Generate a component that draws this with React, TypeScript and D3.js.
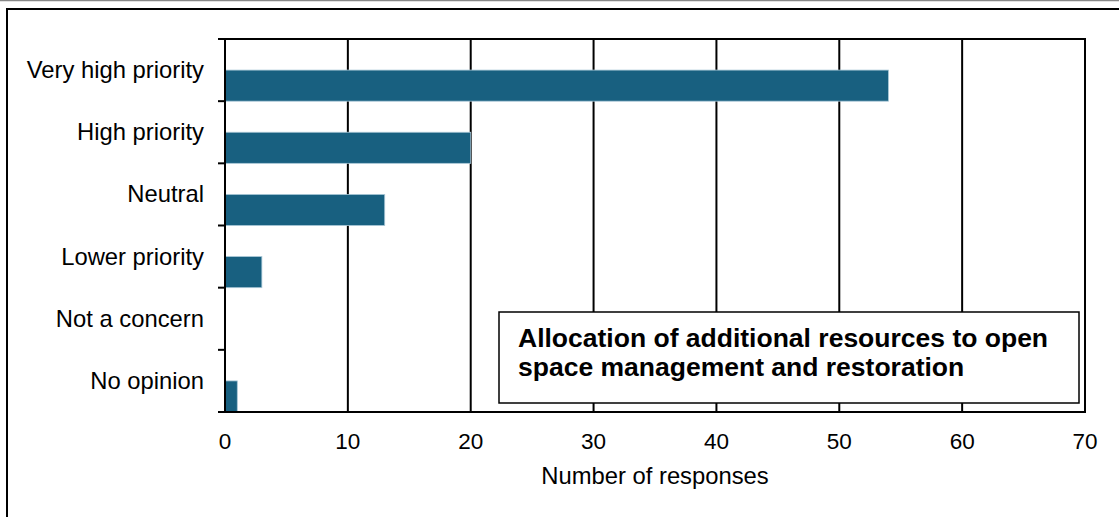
import React from "react";
import * as d3 from "d3";

const categories = ["Very high priority", "High priority", "Neutral", "Lower priority", "Not a concern", "No opinion"];
const values = [54, 20, 13, 3, 0, 1];
const xTicks = [0, 10, 20, 30, 40, 50, 60, 70];
const xLabel = "Number of responses";
const titleLines = ["Allocation of additional resources to open", "space management and restoration"];

const W = 1119;
const H = 517;
const plot = { left: 225, right: 1085, top: 39, bottom: 412 };
const FONT = "Arial, 'Liberation Sans', sans-serif";

export default function App() {
  const x = d3.scaleLinear().domain([0, 70]).range([plot.left, plot.right]);
  const y = d3.scaleBand().domain(categories).range([plot.top, plot.bottom]).padding(0);
  const bw = y.bandwidth();

  return (
    <svg width={W} height={H} style={{ position: "absolute", left: 0, top: 0, background: "#fff" }}>
      <line x1={0} x2={W} y1={0.5} y2={0.5} stroke="#888" strokeWidth={1.5} />
      <path d={`M7,${H} L7,9 L${W},9`} fill="none" stroke="#000" strokeWidth={2} />
      {/* gridlines */}
      {xTicks.slice(1, -1).map((t) => (
        <line key={t} x1={x(t)} x2={x(t)} y1={plot.top} y2={plot.bottom} stroke="#000" strokeWidth={2} />
      ))}
      {/* bars */}
      {categories.map((c, i) => (
        <rect
          key={c}
          x={x(0)}
          y={(y(c) as number) + bw / 2}
          width={x(values[i]) - x(0)}
          height={bw / 2}
          fill="#186080"
          stroke="#a9c7d6"
          strokeWidth={values[i] > 0 ? 0.8 : 0}
        />
      ))}
      {/* plot frame */}
      <rect x={plot.left} y={plot.top} width={plot.right - plot.left} height={plot.bottom - plot.top} fill="none" stroke="#000" strokeWidth={2} />
      {/* y ticks */}
      {categories.map((c) => (
        <line key={c} x1={plot.left - 7} x2={plot.left} y1={(y(c) as number) + bw} y2={(y(c) as number) + bw} stroke="#000" strokeWidth={2} />
      ))}
      <line x1={plot.left - 7} x2={plot.left} y1={plot.top} y2={plot.top} stroke="#000" strokeWidth={2} />
      {/* y labels */}
      {categories.map((c) => (
        <text key={c} x={204} y={(y(c) as number) + bw / 2 + 8} textAnchor="end" fontFamily={FONT} fontSize={23.8} fill="#000">
          {c}
        </text>
      ))}
      {/* x labels */}
      {xTicks.map((t) => (
        <text key={t} x={x(t)} y={449} textAnchor="middle" fontFamily={FONT} fontSize={22.5} fill="#000">
          {t}
        </text>
      ))}
      <text x={655} y={484} textAnchor="middle" fontFamily={FONT} fontSize={23.8} fill="#000">
        {xLabel}
      </text>
      {/* annotation box */}
      <rect x={499} y={312} width={580} height={91} fill="#fff" stroke="#000" strokeWidth={1.5} />
      {titleLines.map((l, i) => (
        <text key={i} x={518} y={347 + i * 29} fontFamily={FONT} fontWeight="bold" fontSize={26.5} fill="#000">
          {l}
        </text>
      ))}
    </svg>
  );
}
